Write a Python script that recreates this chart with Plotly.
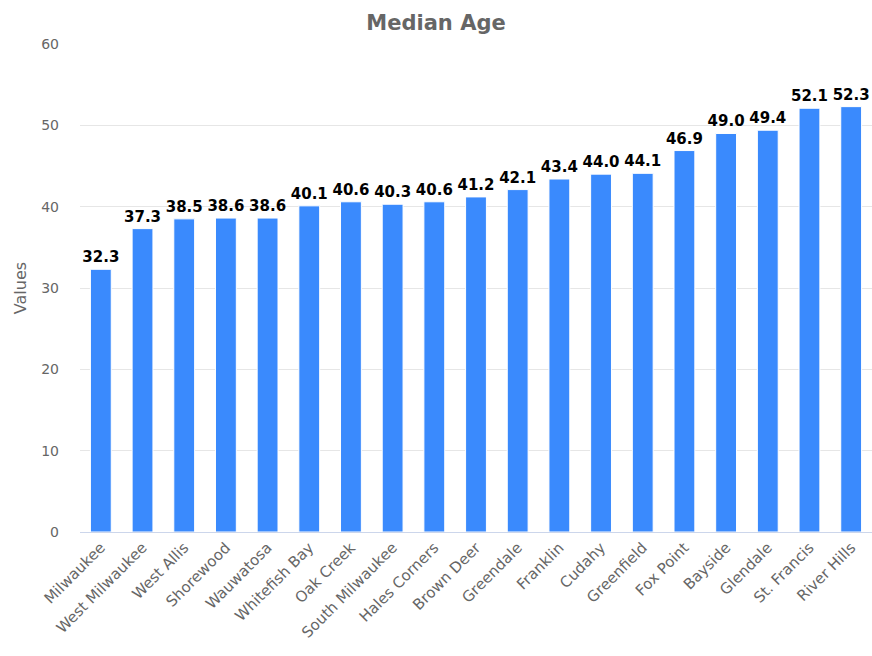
import plotly.graph_objects as go

categories = ["Milwaukee", "West Milwaukee", "West Allis", "Shorewood", "Wauwatosa",
              "Whitefish Bay", "Oak Creek", "South Milwaukee", "Hales Corners", "Brown Deer",
              "Greendale", "Franklin", "Cudahy", "Greenfield", "Fox Point", "Bayside",
              "Glendale", "St. Francis", "River Hills"]
median_age = [32.3, 37.3, 38.5, 38.6, 38.6, 40.1, 40.6, 40.3, 40.6, 41.2,
              42.1, 43.4, 44.0, 44.1, 46.9, 49.0, 49.4, 52.1, 52.3]
y_ticks = [0, 10, 20, 30, 40, 50, 60]

font_family = "DejaVu Sans, sans-serif"

fig = go.Figure(go.Bar(
    x=categories,
    y=median_age,
    marker=dict(color="#3a8afd", line=dict(color="white", width=1)),
    width=0.5,
    text=[f"{v:.1f}" for v in median_age],
    textposition="outside",
    constraintext="none",
    cliponaxis=False,
    textfont=dict(family=font_family, size=15, color="#000000", weight="bold"),
    hoverinfo="x+y",
))

fig.update_layout(
    width=872, height=656,
    paper_bgcolor="white", plot_bgcolor="white",
    margin=dict(l=80, r=0, t=44, b=124, autoexpand=False),
    title=dict(text="<b>Median Age</b>", x=0.5, xanchor="center", y=0.966, yanchor="middle",
               font=dict(family=font_family, size=21, color="#666666")),
    showlegend=False,
    bargap=0.5,
    font=dict(family=font_family, color="#666666"),
)
fig.update_xaxes(
    tickangle=-45, tickfont=dict(size=15, color="#666666"),
    showline=True, linecolor="#ccd6eb", linewidth=1,
    showgrid=False, ticks="", automargin=False,
)
fig.update_yaxes(
    range=[0, 60], tickvals=y_ticks, tickfont=dict(size=14, color="#666666"),
    showgrid=True, gridcolor="#e6e6e6", gridwidth=1, zeroline=False,
    title=dict(text="Values", font=dict(size=16, color="#666666"), standoff=10),
    ticks="", ticklabelstandoff=20, automargin=False,
)

fig.write_html("out.html", config={"displayModeBar": False},
               post_script="document.body.style.margin='0';")
